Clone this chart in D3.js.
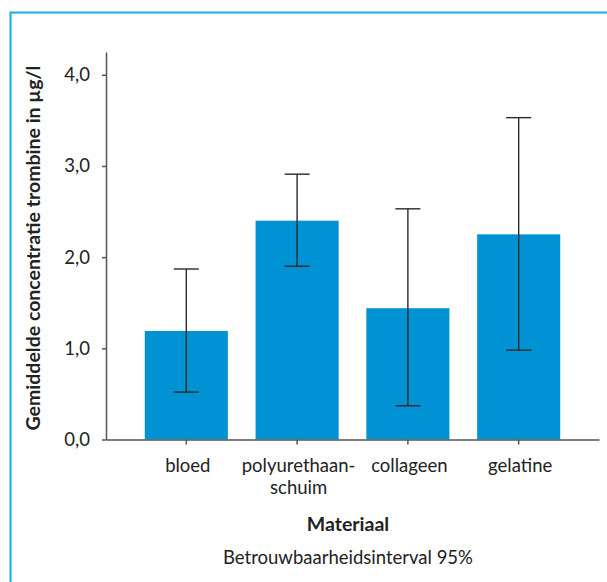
<!DOCTYPE html>
<html>
<head>
<meta charset="utf-8">
<script src="https://cdn.jsdelivr.net/npm/d3@7/dist/d3.min.js"></script>
<style>
  html, body { margin: 0; padding: 0; background: #fff; }
  svg { display: block; }
  text { font-family: Lato, "Open Sans", sans-serif; fill: #222; }
</style>
</head>
<body>
<svg id="chart" width="607" height="582"></svg>
<script>
// Data
const categories = ["bloed", "polyurethaan-\nschuim", "collageen", "gelatine"];
const means = [1.19, 2.40, 1.44, 2.25];
const ciLow = [0.52, 1.90, 0.37, 0.98];
const ciHigh = [1.87, 2.91, 2.53, 3.53];
const yTicks = [0, 1, 2, 3, 4];
const yTitle = "Gemiddelde concentratie trombine in µg/l";
const xTitle = "Materiaal";
const note = "Betrouwbaarheidsinterval 95%";

const svg = d3.select("#chart");

// Frame (light blue border, top and left)
svg.append("path")
  .attr("d", "M10.5,582 L10.5,12.5 L607,12.5")
  .attr("fill", "none")
  .attr("stroke", "#19ade6")
  .attr("stroke-width", 2);

const x = d3.scaleBand()
  .domain(d3.range(categories.length))
  .range([106, 599])
  .paddingInner(0.25)
  .paddingOuter(0.35);

const y = d3.scaleLinear()
  .domain([0, 4.25])
  .range([439.5, 52]);

// Bars
svg.append("g").selectAll("rect")
  .data(means)
  .join("rect")
  .attr("x", (d, i) => x(i))
  .attr("y", d => y(d))
  .attr("width", x.bandwidth())
  .attr("height", d => y(0) - y(d))
  .attr("fill", "#0092d2");

// Error bars
const eb = svg.append("g").attr("stroke", "#2a2a2a").attr("stroke-width", 1.4);
means.forEach((m, i) => {
  const cx = x(i) + x.bandwidth() / 2;
  eb.append("line").attr("x1", cx).attr("x2", cx).attr("y1", y(ciLow[i])).attr("y2", y(ciHigh[i]));
  eb.append("line").attr("x1", cx - 12.5).attr("x2", cx + 12.5).attr("y1", y(ciLow[i])).attr("y2", y(ciLow[i]));
  eb.append("line").attr("x1", cx - 12.5).attr("x2", cx + 12.5).attr("y1", y(ciHigh[i])).attr("y2", y(ciHigh[i]));
});

// Y axis
const yAxis = svg.append("g")
  .attr("transform", "translate(106,0)")
  .call(d3.axisLeft(y).tickValues(yTicks).tickSize(4).tickSizeOuter(0).tickPadding(12)
    .tickFormat(d => d3.format(".1f")(d).replace(".", ",")));
yAxis.select(".domain").attr("stroke", "#555").attr("stroke-width", 1.5);
yAxis.selectAll(".tick line").attr("stroke", "#555").attr("stroke-width", 1.5);
yAxis.selectAll(".tick text").attr("font-size", 18.5).attr("fill", "#333")
  .style("font-family", "Lato, sans-serif");

// X axis
const xAxis = svg.append("g")
  .attr("transform", "translate(0,439.5)")
  .call(d3.axisBottom(x).tickSize(5).tickSizeOuter(0).tickFormat(""));
xAxis.select(".domain").attr("stroke", "#555").attr("stroke-width", 1.5);
xAxis.selectAll(".tick line").attr("stroke", "#555").attr("stroke-width", 1.5);

// X labels (multi-line)
const xl = svg.append("g");
categories.forEach((c, i) => {
  const cx = x(i) + x.bandwidth() / 2 + 1.5;
  const t = xl.append("text")
    .attr("x", cx).attr("y", 472)
    .attr("text-anchor", "middle")
    .attr("font-size", 18.5).attr("fill", "#333");
  c.split("\n").forEach((line, k) => {
    t.append("tspan").attr("x", cx).attr("dy", k === 0 ? 0 : 22).text(line);
  });
});

// Y title
svg.append("text")
  .attr("transform", "translate(40,248) rotate(-90)")
  .attr("text-anchor", "middle")
  .attr("font-size", 19.5)
  .attr("font-weight", "bold")
  .attr("fill", "#222")
  .text(yTitle);

// X title
svg.append("text")
  .attr("x", 348).attr("y", 531)
  .attr("text-anchor", "middle")
  .attr("font-size", 19.5)
  .attr("font-weight", "bold")
  .attr("fill", "#222")
  .text(xTitle);

// Note
svg.append("text")
  .attr("x", 348).attr("y", 564)
  .attr("text-anchor", "middle")
  .attr("font-size", 18.5)
  .attr("fill", "#333")
  .text(note);
</script>
</body>
</html>
